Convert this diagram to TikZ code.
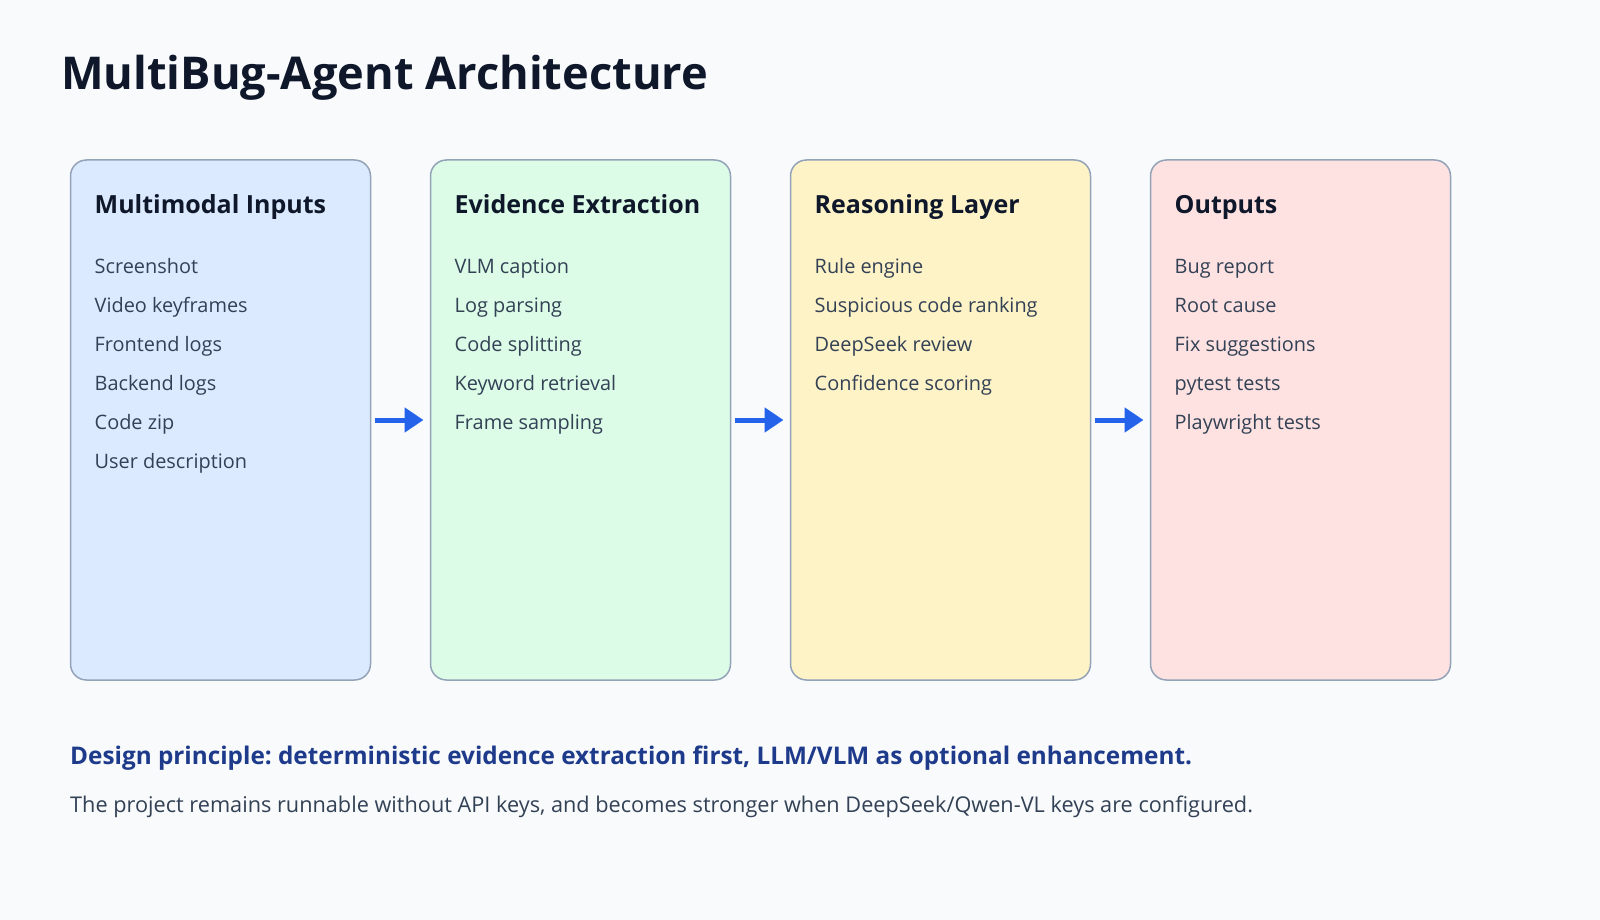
\documentclass[tikz,border=0pt]{standalone}
\usepackage{fontspec}
\setmainfont{Open Sans}
\usepackage{tikz}
\usetikzlibrary{positioning}
\usetikzlibrary{arrows.meta}
\usetikzlibrary{calc}
\frenchspacing

\definecolor{pagebg}{HTML}{F8FAFC}
\definecolor{edgegray}{HTML}{94A3B8}
\definecolor{inkdark}{HTML}{0F172A}
\definecolor{inktext}{HTML}{334155}
\definecolor{flowblue}{HTML}{2563EB}
\definecolor{noteblue}{HTML}{1E3A8A}
\definecolor{fillin}{HTML}{DBEAFE}
\definecolor{fillev}{HTML}{DCFCE7}
\definecolor{fillre}{HTML}{FEF3C7}
\definecolor{fillout}{HTML}{FEE2E2}

\tikzset{
  stage/.style={draw=edgegray,line width=1.5pt,rounded corners=16pt,
    minimum width=300pt,minimum height=520pt,inner sep=0pt,outer sep=0pt},
  head/.style={anchor=base west,inner sep=0pt,text=inkdark,
    font=\fontsize{25}{30}\selectfont\bfseries},
  item/.style={anchor=base west,inner sep=0pt,text=inktext,
    font=\fontsize{19.9}{24}\selectfont},
  flow/.style={draw=flowblue,line width=5pt,shorten <=4pt,shorten >=7pt,
    -{Triangle[length=19pt,width=24pt]}},
}

\begin{document}
\begin{tikzpicture}[x=1pt,y=-1pt,node distance=60pt]
      \fill[pagebg] (0,0) rectangle (1600,920);
      \useasboundingbox (0,0) rectangle (1600,920);
      \node[anchor=base west,inner sep=0pt,text=inkdark,
        font=\fontsize{45.2}{54}\selectfont\bfseries] (title) at (61,90)
        {MultiBug-Agent Architecture};

      \node[stage,fill=fillin] (inp) at (220.5,420) {};
      \node[stage,fill=fillev] (evi) [right=of inp] {};
      \node[stage,fill=fillre] (rea) [right=of evi] {};
      \node[stage,fill=fillout] (out) [right=of rea] {};

      \node[head] (inph) at ($(inp.north west)+(24,53)$) {Multimodal Inputs};
      \node[head] (evih) at ($(evi.north west)+(24,53)$) {Evidence Extraction};
      \node[head] (reah) at ($(rea.north west)+(24,53)$) {Reasoning Layer};
      \node[head] (outh) at ($(out.north west)+(24,53)$) {Outputs};

      \foreach \t [count=\i] in {Screenshot,Video keyframes,Frontend logs,
        Backend logs,Code zip,User description}
        \node[item] (inp\i) at ($(inp.north west)+(24,74+39*\i)$) {\t};
      \foreach \t [count=\i] in {VLM caption,Log parsing,Code splitting,
        Keyword retrieval,Frame sampling}
        \node[item] (evi\i) at ($(evi.north west)+(24,74+39*\i)$) {\t};
      \foreach \t [count=\i] in {Rule engine,Suspicious code ranking,
        DeepSeek review,Confidence scoring}
        \node[item] (rea\i) at ($(rea.north west)+(24,74+39*\i)$) {\t};
      \foreach \t [count=\i] in {Bug report,Root cause,Fix suggestions,
        pytest tests,Playwright tests}
        \node[item] (out\i) at ($(out.north west)+(24,74+39*\i)$) {\t};

      \draw[flow] (inp) -- (evi);
      \draw[flow] (evi) -- (rea);
      \draw[flow] (rea) -- (out);

      \node[anchor=base west,inner sep=0pt,text=noteblue,
        font=\fontsize{24.3}{29}\selectfont\bfseries] (rule) at (70,764)
        {Design principle: deterministic evidence extraction first, LLM/VLM as optional enhancement.};
      \node[anchor=base west,inner sep=0pt,text=inktext,
        font=\fontsize{21.7}{26}\selectfont] (note) at (70,812)
        {The project remains runnable without API keys, and becomes stronger when DeepSeek/Qwen-VL keys are configured.};
    \end{tikzpicture}
\end{document}
